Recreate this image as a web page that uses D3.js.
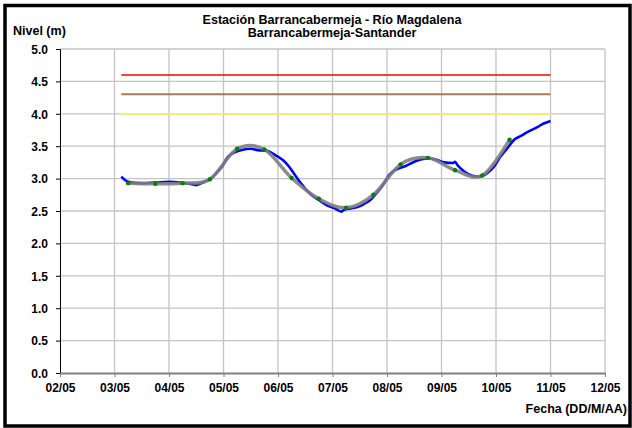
<!DOCTYPE html>
<html><head><meta charset="utf-8">
<script src="https://cdn.jsdelivr.net/npm/d3@7"></script>
<style>body{margin:0;background:#fff}svg{display:block}text{font-family:"Liberation Sans",Arial,sans-serif;font-weight:bold;fill:#000}</style>
</head><body><svg id="c" width="632" height="428"></svg>
<script>
const title1 = "Estación Barrancabermeja - Río Magdalena";
const title2 = "Barrancabermeja-Santander";
const yTitle = "Nivel (m)";
const xTitle = "Fecha (DD/M/AA)";
const xTickLabels = ["02/05","03/05","04/05","05/05","06/05","07/05","08/05","09/05","10/05","11/05","12/05"];
const yTicks = [0,0.5,1,1.5,2,2.5,3,3.5,4,4.5,5];
// observed level (blue)
const obsTimes = ["03/05 03:00","03/05 06:00","03/05 11:00","03/05 18:00","04/05 00:00","04/05 05:00","04/05 09:00","04/05 12:00","04/05 15:00","04/05 18:00","04/05 21:00","05/05 00:00","05/05 01:00","05/05 04:00","05/05 08:00","05/05 12:00","05/05 15:00","05/05 19:00","05/05 23:00","06/05 02:00","06/05 05:00","06/05 07:00","06/05 10:00","06/05 14:00","06/05 18:00","06/05 21:00","07/05 01:00","07/05 04:00","07/05 05:00","07/05 08:00","07/05 11:00","07/05 14:00","07/05 17:00","07/05 19:00","07/05 22:00","08/05 01:00","08/05 04:00","08/05 08:00","08/05 12:00","08/05 18:00","08/05 21:00","09/05 01:00","09/05 05:00","09/05 06:00","09/05 07:00","09/05 10:00","09/05 14:00","09/05 17:00","09/05 20:00","09/05 23:00","10/05 02:00","10/05 05:00","10/05 08:00","10/05 11:00","10/05 14:00","10/05 18:00","10/05 21:00","11/05 00:00"];
const obsValues = [3.03,2.95,2.93,2.94,2.95,2.94,2.92,2.90,2.94,2.99,3.09,3.22,3.29,3.39,3.44,3.46,3.44,3.43,3.36,3.29,3.18,3.08,2.93,2.77,2.67,2.60,2.54,2.49,2.52,2.54,2.56,2.61,2.68,2.76,2.89,3.06,3.14,3.19,3.26,3.31,3.30,3.25,3.24,3.26,3.21,3.11,3.04,3.03,3.08,3.18,3.34,3.47,3.60,3.66,3.72,3.79,3.85,3.89];
// smoothed level (grey line + green points)
const smTimes = ["03/05 06:00","03/05 18:00","04/05 06:00","04/05 18:00","05/05 06:00","05/05 18:00","06/05 06:00","06/05 18:00","07/05 06:00","07/05 18:00","08/05 06:00","08/05 18:00","09/05 06:00","09/05 18:00","10/05 06:00"];
const smValues = [2.93,2.92,2.93,2.99,3.46,3.45,3.01,2.69,2.55,2.75,3.22,3.32,3.13,3.05,3.60];
// alert thresholds
const thrStart = "03/05 03:00", thrEnd = "11/05 00:00";
const thrValues = [4.6, 4.3, 4.0];
const thrColors = ["#ff0000","#a57c5b","#ffff00"];

const parse = d3.timeParse("%d/%m %H:%M");
const svg = d3.select("#c");
const x = d3.scaleTime().domain([parse("02/05 00:00"), parse("12/05 00:00")]).range([60,605]);
const y = d3.scaleLinear().domain([0,5]).range([373,49]);

// border
svg.append("rect").attr("x",5).attr("y",5.5).attr("width",625).attr("height",420.5)
  .attr("fill","none").attr("stroke","#000").attr("stroke-width",3.5);

const tickDates = xTickLabels.map(s=>parse(s+" 00:00"));
// grid
const g = svg.append("g");
g.selectAll(".vg").data(tickDates.slice(1)).join("line")
  .attr("x1",d=>x(d)).attr("x2",d=>x(d)).attr("y1",y(5)).attr("y2",y(0))
  .attr("stroke","#c4c4c4").attr("stroke-width",1.3);
g.selectAll(".hg").data(yTicks.slice(1)).join("line")
  .attr("x1",x.range()[0]).attr("x2",x.range()[1]).attr("y1",d=>y(d)).attr("y2",d=>y(d))
  .attr("stroke","#c4c4c4").attr("stroke-width",1.3);

// y axis
const ya = svg.append("g").attr("transform","translate(60,0)")
  .call(d3.axisLeft(y).tickValues(yTicks).tickFormat(d3.format(".1f")).tickSize(4).tickPadding(8));
ya.select(".domain").attr("stroke","#000");
ya.selectAll("text").style("font-size","12px").attr("dy","0.36em");
// x axis
const xa = svg.append("g").attr("transform","translate(0,373)")
  .call(d3.axisBottom(x).tickValues(tickDates).tickFormat((d,i)=>xTickLabels[i]).tickSize(4).tickPadding(6).tickSizeOuter(0));
xa.select(".domain").attr("stroke","#808080").attr("stroke-width",2);
xa.selectAll(".tick line").attr("stroke","#808080");
xa.selectAll("text").style("font-size","12px");

// thresholds
svg.selectAll(".thr").data(thrValues).join("line")
  .attr("x1",x(parse(thrStart))).attr("x2",x(parse(thrEnd)))
  .attr("y1",d=>y(d)).attr("y2",d=>y(d))
  .attr("stroke",(d,i)=>thrColors[i]).attr("stroke-width",(d,i)=>i==1?2:1.5);

// observed
const obs = obsTimes.map((t,i)=>({t:parse(t),v:obsValues[i]}));
svg.append("path").datum(obs).attr("fill","none").attr("stroke","#0000ff").attr("stroke-width",2.6)
  .attr("stroke-linejoin","round")
  .attr("d", d3.line().x(d=>x(d.t)).y(d=>y(d.v)).curve(d3.curveMonotoneX));
// smoothed
const sm = smTimes.map((t,i)=>({t:parse(t),v:smValues[i]}));
svg.append("path").datum(sm).attr("fill","none").attr("stroke","#808080").attr("stroke-width",3.5)
  .attr("stroke-opacity",0.9)
  .attr("d", d3.line().x(d=>x(d.t)).y(d=>y(d.v)).curve(d3.curveCatmullRom.alpha(0)));
svg.selectAll(".pt").data(sm).join("circle")
  .attr("cx",d=>x(d.t)).attr("cy",d=>y(d.v)).attr("r",2.2).attr("fill","#008000");

// titles
svg.append("text").attr("x",332).attr("y",24).attr("text-anchor","middle").style("font-size","12.6px").text(title1);
svg.append("text").attr("x",332).attr("y",37).attr("text-anchor","middle").style("font-size","12.6px").text(title2);
svg.append("text").attr("x",13).attr("y",35).style("font-size","12.5px").text(yTitle);
svg.append("text").attr("x",627).attr("y",413).attr("text-anchor","end").style("font-size","12.5px").text(xTitle);
</script></body></html>
